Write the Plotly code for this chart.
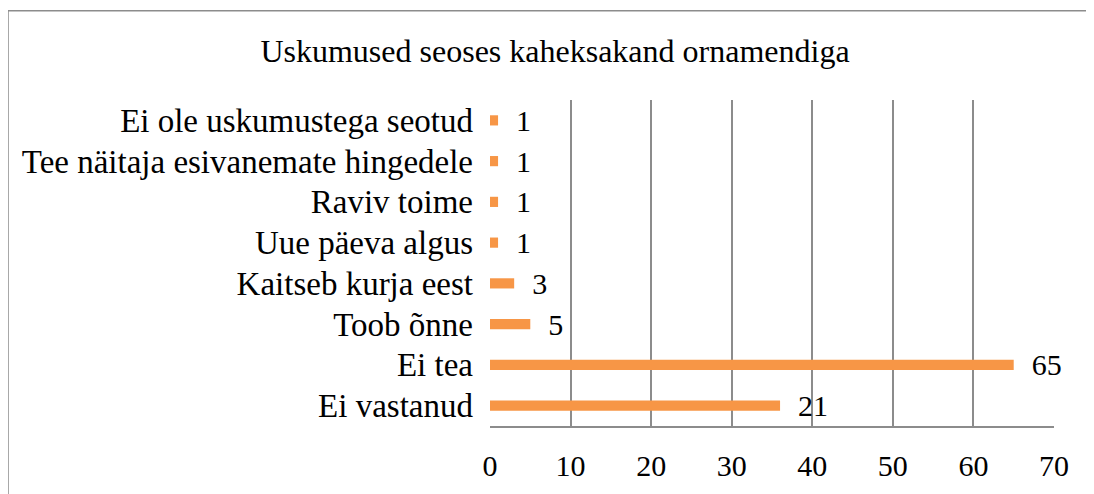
import plotly.graph_objects as go

categories = ["Ei vastanud", "Ei tea", "Toob õnne", "Kaitseb kurja eest",
              "Uue päeva algus", "Raviv toime", "Tee näitaja esivanemate hingedele",
              "Ei ole uskumustega seotud"]
# bar lengths as drawn in the picture
values = [36, 65, 5, 3, 1, 1, 1, 1]
# data labels as printed in the picture
labels = ["21", "65", "5", "3", "1", "1", "1", "1"]
x_ticks = [0, 10, 20, 30, 40, 50, 60, 70]

FONT = "Liberation Serif, Times New Roman, serif"
# page body has an 8px margin, so the figure is offset by (8, 8)
W, H = 1086, 486
L, R, T, B = 482, 40, 92, 65
pw, ph = W - L - R, H - T - B

fig = go.Figure(go.Bar(
    y=categories, x=values, orientation="h",
    text=labels, texttemplate="\u00a0\u00a0%{text}",
    textposition="outside", cliponaxis=False,
    constraintext="none",
    textfont=dict(family=FONT, size=30, color="#000000"),
    marker=dict(color="#F79646", line=dict(width=0)),
    width=0.25,
))

fig.update_layout(
    width=W, height=H,
    margin=dict(l=L, r=R, t=T, b=B),
    paper_bgcolor="white", plot_bgcolor="white",
    showlegend=False,
    font=dict(family=FONT, size=30, color="#000000"),
    title=dict(text="Uskumused seoses kaheksakand ornamendiga",
               x=547 / W, xref="container", xanchor="center",
               y=1 - 43 / H, yref="container", yanchor="middle",
               font=dict(family=FONT, size=32, color="#000000")),
    xaxis=dict(range=[0, 70], tickvals=x_ticks, showgrid=True,
               gridcolor="#8C8C8C", gridwidth=1.5, zeroline=False,
               showline=True, linecolor="#8C8C8C", linewidth=1.5,
               ticks="", ticklabelstandoff=12,
               tickfont=dict(family=FONT, size=30)),
    yaxis=dict(categoryorder="array", categoryarray=categories,
               showgrid=False, zeroline=False, showline=False, ticks="",
               ticklabelstandoff=16,
               tickfont=dict(family=FONT, size=33)),
    bargap=0.7,
)

# outer chart border (extends past right and bottom edges)
fig.add_shape(type="rect", xref="paper", yref="paper",
              x0=(0 - L) / pw, x1=(W + 20 - L) / pw,
              y0=-(B + 20) / ph, y1=(H - B - 2) / ph,
              line=dict(color="#8C8C8C", width=1.5), fillcolor="rgba(0,0,0,0)",
              layer="below")

fig.write_html("out.html")
